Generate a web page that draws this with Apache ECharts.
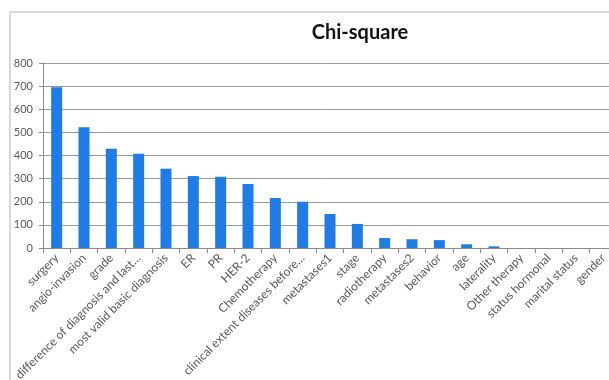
<!DOCTYPE html>
<html>
<head>
<meta charset="utf-8">
<script src="https://cdn.jsdelivr.net/npm/echarts@6/dist/echarts.min.js"></script>
<style>
  html, body { margin: 0; padding: 0; background: #fff; }
  #chart { width: 609px; height: 380px; }
</style>
</head>
<body>
<div id="chart"></div>
<script>
// Chi-square score of each variable
const categories = [
  'surgery', 'angio-invasion', 'grade', 'difference of diagnosis and last…',
  'most valid basic diagnosis', 'ER', 'PR', 'HER-2', 'Chemotherapy',
  'clinical extent diseases before…', 'metastases1', 'stage', 'radiotherapy',
  'metastases2', 'behavior', 'age', 'laterality', 'Other therapy',
  'status hormonal', 'marital status', 'gender'
];
const chiSquare = [
  695, 522, 429, 408, 343, 311, 308, 277, 216, 200, 147, 104, 43, 38, 34,
  16, 7, 0, 0, 0, 0
];
const yTicks = { min: 0, max: 800, interval: 100 };

const chart = echarts.init(document.getElementById('chart'), null, { renderer: 'canvas' });
const labelFont = 'Lato, "Open Sans", sans-serif';

chart.setOption({
  animation: false,
  backgroundColor: '#ffffff',
  title: {
    text: 'Chi-square',
    left: 355,
    top: 18,
    textAlign: 'center',
    textStyle: { fontFamily: labelFont, fontSize: 20, fontWeight: 'bold', color: '#111' }
  },
  graphic: [
    { type: 'line', shape: { x1: 10, y1: 12, x2: 10, y2: 380 }, style: { stroke: '#d9d9d9', lineWidth: 2 } },
    { type: 'line', shape: { x1: 10, y1: 12, x2: 609, y2: 12 }, style: { stroke: '#d9d9d9', lineWidth: 2 } }
  ],
  grid: { left: 43, right: -8, top: 63, bottom: 132, containLabel: false, outerBoundsMode: 'none' },
  xAxis: {
    type: 'category',
    data: categories,
    axisLine: { lineStyle: { color: '#8c8c8c', width: 1 } },
    axisTick: { show: true, length: 5, alignWithLabel: false, lineStyle: { color: '#8c8c8c' } },
    axisLabel: {
      interval: 0,
      rotate: 45,
      margin: 8,
      fontFamily: labelFont,
      fontSize: 12,
      color: '#595959'
    }
  },
  yAxis: {
    type: 'value',
    min: yTicks.min,
    max: yTicks.max,
    interval: yTicks.interval,
    axisLine: { show: true, lineStyle: { color: '#8c8c8c' } },
    axisTick: { show: true, length: 4, lineStyle: { color: '#8c8c8c' } },
    splitLine: { show: true, lineStyle: { color: '#9a9a9a', width: 1 } },
    axisLabel: { margin: 10, fontFamily: labelFont, fontSize: 11, color: '#595959' }
  },
  series: [{
    type: 'bar',
    data: chiSquare,
    barWidth: 11,
    itemStyle: { color: '#1f7be6' }
  }]
});
</script>
</body>
</html>
